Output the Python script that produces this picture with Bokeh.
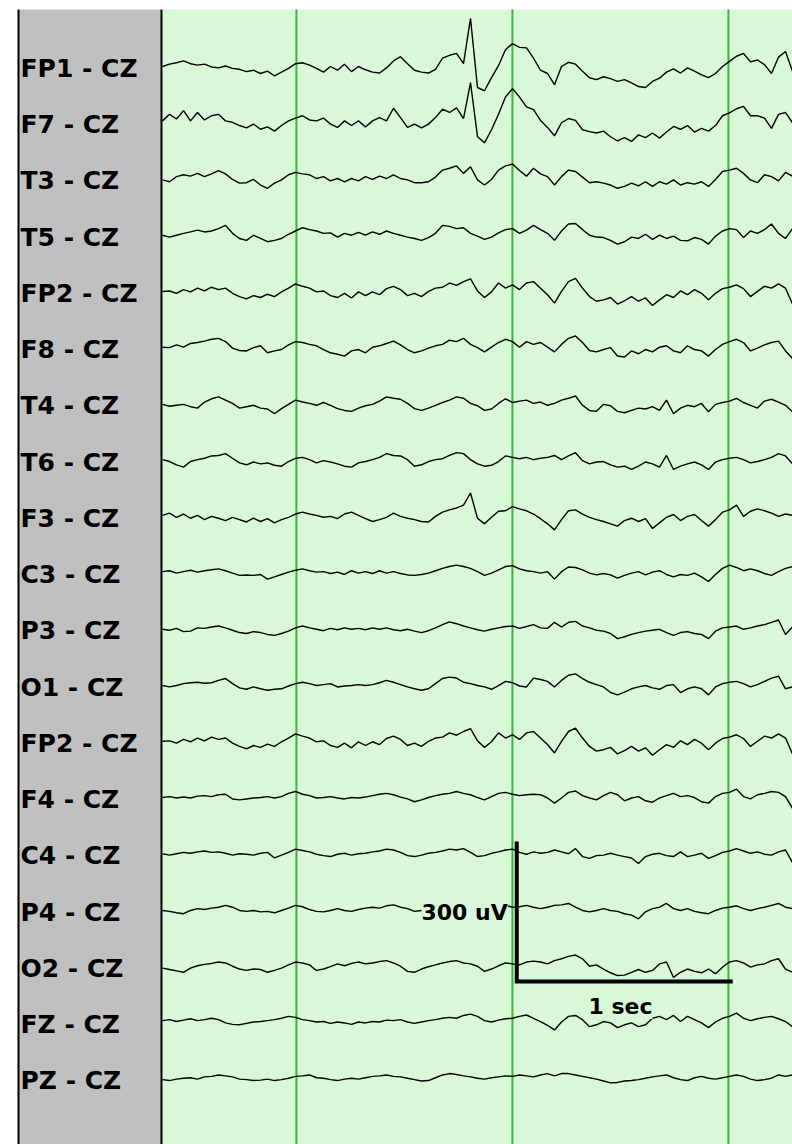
import numpy as np
from bokeh.plotting import figure
from bokeh.models import ColumnDataSource, Range1d, Label
from bokeh.core.properties import value
from bokeh.embed import file_html
from bokeh.resources import INLINE

# ---------------- data ----------------
channel_labels = ["FP1 - CZ", "F7 - CZ", "T3 - CZ", "T5 - CZ", "FP2 - CZ", "F8 - CZ",
                  "T4 - CZ", "T6 - CZ", "F3 - CZ", "C3 - CZ", "P3 - CZ", "O1 - CZ",
                  "FP2 - CZ", "F4 - CZ", "C4 - CZ", "P4 - CZ", "O2 - CZ", "FZ - CZ", "PZ - CZ"]

# amplitudes in microvolts, one sample every 7/216 s
fp1 = [0, 5, 8, 12, 6, 3, 5, -1, -3, 1, -4, -6, -11, -8, -15, -10, -20, -12, -4, 6,
       8, 3, -4, -12, 0, -8, 5, -11, 0, -7, -12, -14, -3, 12, 21, 6, -8, -12, -14, -6,
       18, 24, 28, 6, 103, -45, -52, -24, 2, 36, 49, 41, 40, 18, -8, -15, -39, 0, 9, 5,
       -10, -24, -28, -22, -26, -32, -28, -35, -43, -45, -32, -25, -12, -5, -14, -3, -10, -18, -24, -15,
       0, 11, 22, 28, 10, 14, 4, -15, 20, 32, -10]
f7 = [4, 18, 8, 26, 4, 22, 6, 15, 18, 4, 1, -6, -11, -3, -14, -9, -18, -6, 4, 10,
      15, 6, 4, 10, -3, -10, 4, -6, 4, -9, 4, 11, 4, 31, 11, -10, -3, -11, -3, 11,
      29, 22, 32, 9, 86, -30, -43, -15, 18, 55, 73, 55, 34, 28, 5, -10, -28, 0, 9, 5,
      -15, -19, -22, -18, -30, -39, -32, -40, -26, -32, -22, -33, -20, -8, -14, -6, -20, -12, -18, -6,
      15, 21, 30, 35, 15, 15, 10, -12, 18, 22, 0]
t3 = [-2, -6, 5, 9, 6, 12, 5, 11, 18, 11, -1, -9, -8, -1, -13, -20, -9, -2, 9, 14,
      11, 9, 1, 5, -4, 1, -6, 1, -4, 5, -1, 6, 1, 9, 1, -2, -8, -8, -6, 4,
      19, 23, 28, 12, 26, -2, -13, -1, 19, 28, 32, 18, 6, 23, 11, 5, -13, 5, 19, 16,
      4, -8, -6, -9, -13, -20, -16, -9, -15, -6, -16, -6, -11, -2, -13, -8, -11, -6, -16, -1,
      16, 19, 23, 12, -2, -8, 9, 5, -4, 14, 6]
t5 = [0, -4, 0, 4, 7, 11, 7, 9, 14, 21, 4, -7, -11, 0, -7, -14, -11, -7, 2, 9,
      16, 12, 9, 4, 5, -4, 4, 0, 6, 0, 7, 2, 9, 4, 0, -4, -7, -11, -5, 4,
      21, 19, 14, 16, 4, -2, -9, -4, 5, 12, 14, 4, 11, 21, 12, 4, -11, 9, 24, 25,
      12, 0, -4, -5, -11, -19, -14, -4, -7, 2, -9, 0, -7, -2, -11, -12, -5, -9, -19, -2,
      9, 14, 12, -5, 9, 4, 12, 24, 4, -7, 14]
fp2 = [0, 1, -4, 4, -1, 7, 1, 9, 4, 7, -4, -11, -16, -9, -13, -6, -11, -1, 7, 16,
       11, 7, -1, 1, -9, -13, -4, -14, -1, -9, -1, -7, 6, 11, 4, -9, -4, -11, 0, 7,
       9, 18, 13, 21, 27, 1, -13, -1, 18, 7, 14, 4, 18, 21, 7, -7, -25, 0, 21, 28,
       7, -11, -21, -18, -13, -27, -20, -11, -21, -14, -30, -18, -7, -13, 1, -7, 4, -4, -18, -4,
       6, 9, 14, 6, -11, 0, 11, 7, 16, 7, -27]
f8 = [1, 0, 6, 1, 9, 11, 14, 18, 20, 13, -1, -6, -7, 0, 4, -11, -7, -4, 6, 13,
      11, 7, 4, -4, -11, -14, -18, -7, -4, -11, 1, 4, 9, 14, 6, -4, -11, -7, -1, 4,
      7, 16, 13, 20, 7, 0, -9, 1, 11, 18, 13, 1, 13, 7, 11, 1, -9, 7, 20, 25,
      11, -6, -9, -4, 0, -18, -20, -7, -13, -4, -9, 1, 4, -7, -11, 4, -4, -7, -18, -4,
      7, 13, 18, 11, -7, -1, 6, 11, 14, -7, -23]
t4 = [-1, -5, -3, -1, -6, -9, 4, 11, 15, 8, 1, -9, -6, -3, -9, -11, -21, -10, -1, 8,
      4, 1, -3, 3, -3, -10, -14, -16, -9, -4, -1, 6, 15, 12, 10, 1, -10, -14, -9, -3,
      3, 8, 15, 12, 1, -4, -14, -11, 1, 11, 3, 6, 8, 1, 4, -3, 1, 8, 12, 17,
      -3, -14, -16, -1, -4, -16, -19, -14, -9, -11, -6, -14, 8, -21, -9, -3, -6, 1, -17, -1,
      3, 6, 12, 3, -3, -9, 6, 10, 4, -3, -17]
t6 = [1, -3, -10, -15, -3, 1, 4, 9, 10, 14, 4, -6, -10, -4, -8, -6, -11, -13, -3, 4,
      6, 1, -6, -1, -4, -8, -13, -15, -6, -3, 1, 6, 14, 10, 9, 1, -13, -10, -3, 1,
      3, 10, 16, 14, 1, -8, -13, -11, -3, 9, 6, 3, 6, 1, 4, 6, 10, 1, 9, 16,
      -1, -8, -4, -3, -10, -15, -13, -20, -13, -4, -8, -15, 10, -20, -13, -8, -4, -10, -20, -4,
      1, 4, 6, 1, -6, -3, 1, 6, 14, 9, -8]
f3 = [2, 7, -2, 5, -4, 2, -7, 0, -4, -9, -2, -7, -12, -4, -11, -5, -14, -7, -2, 5,
      9, 5, 2, -2, 0, -5, 5, 9, 2, -5, -11, -7, -2, 7, 0, -4, -7, -11, -12, 0,
      9, 14, 18, 24, 50, -4, -16, -2, 11, 12, 21, 16, 12, 5, -5, -16, -29, -7, 12, 14,
      5, -2, -7, -11, -16, -21, -9, -4, -11, -5, -26, -14, -2, 4, -9, 0, 4, -9, -21, -7,
      9, 14, 24, 0, 11, 16, 12, 7, 0, 5, 2]
c3 = [2, 4, -1, 2, 5, 1, 4, 6, 8, 4, -1, -6, -5, -6, -4, -14, -9, -4, 1, 5,
      8, 4, 1, 2, -2, 1, -4, 4, -1, 2, -2, 4, -1, 2, -2, -5, -6, -4, -1, 4,
      9, 13, 16, 13, 9, 2, -6, -1, 6, 13, 15, 8, 4, 2, -1, 2, -14, 2, 12, 11,
      6, -1, -5, -2, -5, -12, -6, -1, 2, -5, 1, 4, -4, -9, -4, -6, -1, -9, -19, -4,
      9, 16, 11, 4, 8, 4, -2, -6, 2, 9, 13]
p3 = [-1, -3, 1, -6, -5, 2, 1, 4, 6, 2, -3, -8, -10, -6, -8, -12, -14, -10, -5, 2,
      6, 2, -1, -4, 1, -2, 2, -1, 1, -2, 2, -1, 2, -2, -4, -1, -5, -8, -4, 2,
      9, 15, 11, 6, 2, -2, -5, -1, 2, 5, 6, 1, 5, 9, 2, 1, 14, 4, 14, 16,
      6, 2, -3, -5, -10, -21, -17, -12, -8, -5, -3, -1, -8, -14, -8, -6, -10, -12, -21, -5,
      2, 4, 6, -1, 2, 6, 9, 14, 19, -12, 4]
o1 = [-1, -4, -1, 3, 5, 6, 4, 5, 10, 14, 3, -6, -9, -4, -8, -11, -9, -8, -2, 3,
      6, 3, -1, 1, 3, -4, -2, -1, 1, -1, 1, 5, 10, 6, 1, -4, -8, -11, -8, 3,
      14, 17, 15, 6, 3, -1, -4, -9, -1, 8, 5, -2, -4, 15, 12, 8, -4, 10, 21, 24,
      14, 6, 1, -4, -16, -21, -15, -8, -4, -1, -6, -9, -1, 1, -16, -8, -4, -8, -21, -4,
      3, 6, 8, 3, -4, 1, 8, 15, 19, -8, -4]
f4 = [0, 2, -1, 1, -1, 3, 4, 2, 6, 7, -3, -5, -3, -1, 0, 2, -1, 2, 9, 13,
      7, 4, -1, 0, 2, -1, -3, 0, -1, 1, 4, 7, 9, 6, 1, -3, -9, -5, 0, 4,
      7, 9, 13, 9, 6, 0, -5, 2, 9, 11, 7, 4, 6, 7, 6, -1, -12, -1, 11, 14,
      4, -1, -5, 4, 11, 6, -7, -1, 2, -7, -10, -1, 4, 9, 2, 4, 0, -9, -12, 2,
      9, 11, 18, 2, -3, 6, 9, 13, 11, 2, -23]
c4 = [0, -3, 0, 3, 1, 4, 6, 3, 4, 1, -3, 0, -1, -3, 1, 3, -9, -3, 3, 10,
      7, 4, -1, -4, -6, -1, 1, -3, 0, 1, 4, 6, 10, 8, 3, -4, -6, -3, 1, 3,
      6, 10, 8, 11, 3, -6, -4, 1, 4, 8, 10, 3, -1, 4, 1, 3, 8, 4, 0, 11,
      -6, -10, -4, -3, 1, -3, -6, -9, -21, -6, -1, 1, -4, -6, 4, -6, -3, 1, -10, -4,
      3, 6, 11, 6, 1, 4, -1, -3, 4, 8, -19]
p4 = [-1, -3, -6, -8, -1, 3, 1, 4, 6, 10, 6, -1, -3, -1, -4, -3, -6, -1, 4, 10,
      7, 1, -3, -4, -1, 3, -1, -3, 1, 4, 6, 4, 9, 11, 6, 3, -3, -1, 4, 6,
      10, 6, 3, -1, 4, 1, -3, 3, 6, 10, 6, 7, 10, 6, 3, 6, 10, 11, 14, 6,
      -1, -4, -1, 3, -1, -3, -8, -11, -19, -4, 3, 6, 14, 3, -1, 3, -3, -6, -8, -1,
      4, 6, 9, 3, -1, 3, 6, 10, 14, 6, 3]
o2 = [-4, -7, -10, -13, -4, 1, 4, 6, 9, 7, 0, -6, -9, -6, -7, -13, -9, -4, 3, 9,
      7, 3, -9, -6, -1, 5, 1, 6, 9, 5, 7, 10, 12, 7, 0, -11, -13, -6, -1, 3,
      7, 10, 12, 7, 5, 0, -11, -6, 1, 7, 5, 3, 9, 11, 9, 5, 12, 16, 21, 24,
      16, 0, 3, -6, -14, -20, -19, -13, -7, -13, -9, 5, 9, -24, -13, -6, -11, -14, -6, -16,
      -2, 9, 12, 7, -2, 3, 5, 12, 16, -6, -13]
fz = [4, 6, 2, 5, 8, 4, 6, 9, 6, -1, -4, -5, -2, 1, 2, 4, 6, 9, 13, 11,
      6, 4, 1, 2, -2, 1, -1, -4, 1, -1, 2, 1, 5, 4, 6, 1, -2, 1, 4, 6,
      9, 11, 9, 15, 18, 13, 4, 1, 5, 8, 9, 13, 16, 9, 2, -6, -16, 1, 13, 15,
      6, -9, -5, 2, -1, -11, -5, -1, -9, -5, 9, 13, 6, 15, 2, 13, 6, -1, -11, 1,
      9, 13, 20, 9, 4, 8, 11, 13, 8, 2, -9]
pz = [-2, -4, -1, 1, 2, -1, 4, 5, 8, 6, 4, -1, -2, -4, -3, -1, -4, -2, 1, 5,
      6, 8, 2, 1, -2, -4, -1, 1, -1, 2, 5, 6, 8, 5, 4, 1, -2, -5, -4, 2,
      8, 11, 9, 6, 4, 1, -1, 2, 4, 6, 5, 8, 6, 4, 8, 11, 6, 11, 11, 8,
      5, 2, -1, -5, -9, -8, -5, -4, -2, 1, 4, 6, 8, 2, -2, -4, 2, 5, 1, -1,
      2, 5, 8, 5, -1, -4, -2, 1, 8, 5, 8]

signals = [fp1, f7, t3, t5, fp2, f8, t4, t6, f3, c3, p3, o1, fp2, f4, c4, p4, o2, fz, pz]

start_time = 0.38            # s, time at the left edge of the traces
sample_interval = 7 / 216    # s
second_marks = [1, 2, 3]     # s
scale_uv = 300
scale_sec = 1
scale_bar_time = 2.02        # s
channel_spacing = 120.5      # uV between channel baselines

# ---------------- layout helpers ----------------
W, H = 792, 1144
PX_PER_SEC = 216.0
UV_PER_PX = 300.0 / 140.0
TRACE_LEFT_PX = 162
TOP_BASE_PX = 66
GREEN_BG = "#D8F8D8"
GRID_GREEN = "#3CB43C"


def t_at(px):
    return start_time + (px - TRACE_LEFT_PX) / PX_PER_SEC


def v_at(py):
    return -(py - TOP_BASE_PX) * UV_PER_PX


p = figure(width=W, height=H,
           x_range=Range1d(t_at(0), t_at(W)),
           y_range=Range1d(v_at(H), v_at(0)),
           output_backend="svg", toolbar_location=None,
           x_axis_location=None, y_axis_location=None,
           min_border=0, min_border_left=0, min_border_right=0,
           min_border_top=0, min_border_bottom=0)
p.grid.visible = False
p.outline_line_color = None
p.background_fill_color = "white"
p.border_fill_color = "white"

# label panel and trace area
p.quad(left=[t_at(18)], right=[t_at(161)], top=[v_at(9)], bottom=[v_at(H + 5)],
       fill_color="#C0C0C0", line_color=None)
p.quad(left=[t_at(162)], right=[t_at(W + 5)], top=[v_at(9)], bottom=[v_at(H + 5)],
       fill_color=GREEN_BG, line_color=None)
p.segment(x0=[t_at(18), t_at(161)], x1=[t_at(18), t_at(161)],
          y0=[v_at(9)] * 2, y1=[v_at(H + 5)] * 2,
          line_color="black", line_width=2)

# one-second grid lines
p.segment(x0=second_marks, x1=second_marks,
          y0=[v_at(9)] * len(second_marks), y1=[v_at(H + 5)] * len(second_marks),
          line_color=GRID_GREEN, line_width=2)

# traces
xs, ys = [], []
for k, sig in enumerate(signals):
    arr = np.asarray(sig, dtype=float)
    xs.append(start_time + np.arange(len(arr)) * sample_interval)
    ys.append(-k * channel_spacing + arr)
p.multi_line(xs=xs, ys=ys, line_color="black", line_width=1.4)

# channel labels
label_src = ColumnDataSource(dict(
    x=[t_at(20)] * len(channel_labels),
    y=[-k * channel_spacing - 2 * UV_PER_PX for k in range(len(channel_labels))],
    text=channel_labels))
p.text(x="x", y="y", text="text", source=label_src,
       text_font=value("DejaVu Sans"), text_font_style="bold",
       text_font_size="25px", text_color="black",
       text_align="left", text_baseline="middle")

# calibration bar
bar_bottom = v_at(981)
p.line(x=[scale_bar_time, scale_bar_time, scale_bar_time + scale_sec],
       y=[bar_bottom + scale_uv, bar_bottom, bar_bottom],
       line_color="black", line_width=4, line_join="miter")

p.add_layout(Label(x=scale_bar_time - 9 / PX_PER_SEC, y=bar_bottom + scale_uv * 0.49,
                   text=f"{scale_uv} uV", text_font="DejaVu Sans", text_font_style="bold",
                   text_font_size="22px", text_color="black",
                   text_align="right", text_baseline="middle",
                   background_fill_color=GREEN_BG, background_fill_alpha=1.0))
p.add_layout(Label(x=scale_bar_time + scale_sec * 0.48, y=bar_bottom - 25 * UV_PER_PX,
                   text=f"{scale_sec} sec", text_font="DejaVu Sans", text_font_style="bold",
                   text_font_size="22px", text_color="black",
                   text_align="center", text_baseline="middle",
                   background_fill_color=GREEN_BG, background_fill_alpha=1.0))

open("out.html", "w").write(file_html(p, INLINE))
